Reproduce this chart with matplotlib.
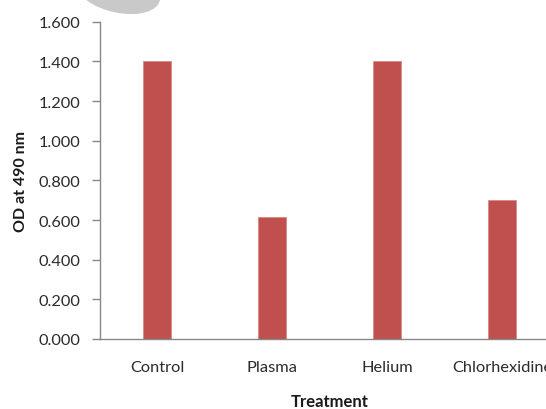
import matplotlib
matplotlib.use("Agg")
import matplotlib.pyplot as plt
from matplotlib.patches import Ellipse

treatments = ["Control", "Plasma", "Helium", "Chlorhexidine"]
od_values = [1.400, 0.615, 1.400, 0.700]
y_ticks = [0.0, 0.2, 0.4, 0.6, 0.8, 1.0, 1.2, 1.4, 1.6]

plt.rcParams["font.family"] = ["Lato", "DejaVu Sans"]

W, H = 546, 410
fig = plt.figure(figsize=(W / 100, H / 100), dpi=100)
fig.patch.set_facecolor("white")

# grey decorative shape peeking in from the top edge
blob = Ellipse((118 / W, 1 + 8 / H), 88 / W, 42 / H, angle=-22,
               transform=fig.transFigure, facecolor="#c9c9c9",
               edgecolor="none", zorder=0)
fig.patches.append(blob)

ax = fig.add_axes([99.5 / W, 70 / H, 460 / W, 317.3 / H])
x = range(len(treatments))
ax.bar(x, od_values, width=0.25, color="#C0504D", edgecolor="#d88a88",
       linewidth=0.6)

ax.set_xlim(-0.5, 3.5)
ax.set_ylim(0, 1.6)
ax.set_yticks(y_ticks)
ax.set_yticklabels([f"{v:.3f}" for v in y_ticks])
ax.set_xticks(list(x))
ax.set_xticklabels(treatments)

for side in ("top", "right"):
    ax.spines[side].set_visible(False)
for side in ("left", "bottom"):
    ax.spines[side].set_color("#878787")
    ax.spines[side].set_linewidth(1.0)

ax.tick_params(axis="y", direction="out", length=6, width=1.0,
               color="#878787", pad=8, labelsize=11.8, labelcolor="#2b2b2b")
ax.tick_params(axis="x", length=0, pad=15, labelsize=11.8,
               labelcolor="#2b2b2b")

ax.set_ylabel("OD at 490 nm", fontsize=11.5, fontweight="bold",
              color="#1a1a1a", labelpad=7)
ax.set_xlabel("Treatment", fontsize=12, fontweight="bold",
              color="#1a1a1a", labelpad=14)

fig.savefig("out.png", dpi=100)
